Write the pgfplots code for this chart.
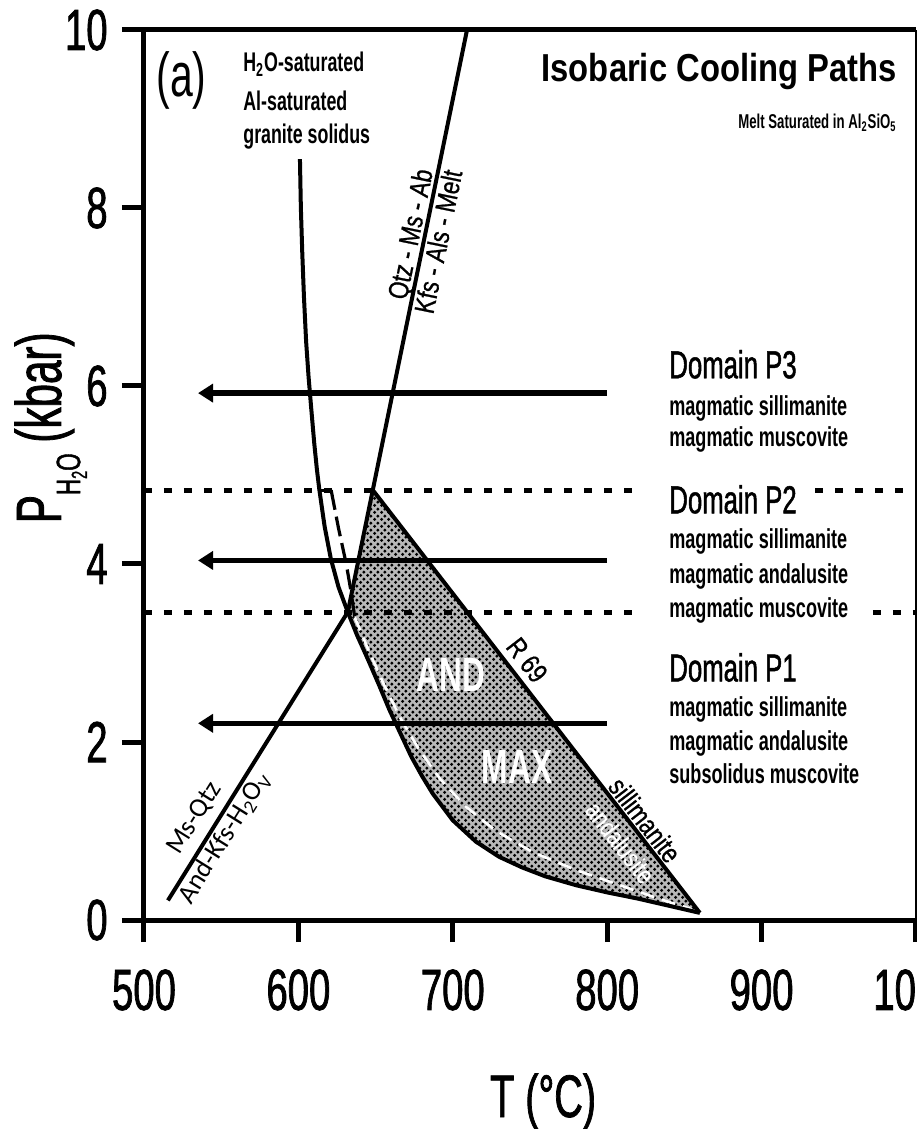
\documentclass[border=0pt]{standalone}
\usepackage{fontspec}
\setmainfont{Liberation Sans}[FakeStretch=0.66]
\newfontfamily\medfont{Liberation Sans}[FakeStretch=0.66, FakeBold=1.2]
\newfontfamily\titlefont{Liberation Sans}[FakeStretch=0.84]
\newfontfamily\midfont{Liberation Sans}[FakeStretch=0.8, FakeBold=0.8]
\newfontfamily\carl{Carlito}
\usepackage{pgfplots}
\pgfplotsset{compat=1.18}
\usetikzlibrary{arrows.meta,patterns.meta}

\tikzdeclarepattern{
  name=halftone,
  type=uncolored,
  bottom left={(0pt,0pt)},
  top right={(3.6pt,3.6pt)},
  tile size={(3.6pt,3.6pt)},
  code={
    \pgfpathcircle{\pgfqpoint{0.9pt}{0.9pt}}{0.95pt}
    \pgfpathcircle{\pgfqpoint{2.7pt}{2.7pt}}{0.95pt}
    \pgfusepath{fill}
  }
}

\begin{document}
\begin{tikzpicture}
\begin{axis}[
  width=386pt, height=445pt, scale only axis,
  xmin=500, xmax=1000, ymin=0, ymax=10,
  xtick={500,600,700,800,900,1000}, ytick={0,2,4,6,8,10},
  axis x line*=bottom, axis y line*=left,
  axis line style={line width=2.5pt},
  tick align=outside, major tick length=11pt,
  tick style={line width=2.5pt, black},
  /pgf/number format/1000 sep={},
  /pgf/number format/assume math mode=true,
  tick label style={font=\medfont\fontsize{29}{29}\selectfont},
  xticklabel style={anchor=north, inner sep=0pt, yshift=-13.5pt},
  yticklabel style={anchor=east, inner sep=0pt, xshift=-7pt},
  xlabel={T (°C)},
  every axis x label/.style={at={([yshift=-98.5pt]rel axis cs:0.517,0)}, anchor=base, font=\medfont\fontsize{30}{30}\selectfont},
  ylabel={P\raisebox{-0.3em}{\fontsize{17}{17}\selectfont H\raisebox{-0.2em}{\fontsize{11}{11}\selectfont 2}O}\,(kbar)},
  every axis y label/.style={at={([xshift=-41.5pt]rel axis cs:0,0.553)}, rotate=90, anchor=base, font=\medfont\fontsize{32}{32}\selectfont},
  clip=false,
]
\coordinate (SW) at (rel axis cs:0,0);
\coordinate (NE) at (rel axis cs:1,1);

% stippled field (AND + MAX)
\addplot[draw=none, fill=black!28, postaction={pattern=halftone, pattern color=black}] coordinates {
 (648.2,4.83) (860,0.08) (840,0.16) (820,0.24) (800,0.31) (780,0.39) (760,0.49)
 (745,0.59) (730,0.71) (715,0.88) (700,1.12) (687,1.42) (680,1.62) (673,1.84)
 (666,2.10) (659,2.36) (652,2.65) (645,2.93) (638,3.20) (632,3.46)
} -- cycle;

% white dashed continuation inside the field
\addplot[white, line width=1.3pt, dash pattern=on 7pt off 4pt] coordinates {
 (636.5,3.40) (645,3.05) (655,2.66) (666,2.27) (678,1.92) (692,1.58) (708,1.28)
 (728,1.0) (752,0.76) (780,0.56) (810,0.38) (835,0.23) (855,0.12)
};

% dotted domain boundaries
\addplot[black, line width=2.5pt, dash pattern=on 4pt off 6pt] coordinates {(500,4.83) (823,4.83)};
\addplot[black, line width=2.5pt, dash pattern=on 4pt off 6pt] coordinates {(934.6,4.83) (1000,4.83)};
\addplot[black, line width=2.5pt, dash pattern=on 4pt off 6pt] coordinates {(500,3.45) (823,3.45)};
\addplot[black, line width=2.5pt, dash pattern=on 4pt off 6pt] coordinates {(972,3.45) (1000,3.45)};

% H2O-saturated granite solidus
\addplot[black, line width=2pt] coordinates {
 (601,8.55) (601.6,8.0) (602.5,7.5) (603.6,7.0) (605,6.5) (606.6,6.1) (608.3,5.75)
 (610.3,5.35) (612,5.06) (613.6,4.83) (617,4.42) (621,4.06) (626,3.74) (632,3.46)
 (638,3.20) (645,2.93) (652,2.65) (659,2.36) (666,2.10) (673,1.84) (680,1.62)
 (687,1.42) (700,1.12) (715,0.88) (730,0.71) (745,0.59) (760,0.49) (780,0.39)
 (800,0.31) (820,0.24) (840,0.16) (860,0.08)
};

% black dashed curve between 4.8 kbar and the invariant point
\addplot[black, line width=1.6pt] coordinates {(613.6,4.83) (621.2,4.83)};
\addplot[black, line width=1.6pt, dash pattern=on 10pt off 3.5pt] coordinates {
 (621.2,4.83) (626,4.4) (631,4.0) (634,3.7) (636.5,3.4)
};

% Ms-Qtz = And-Kfs-H2Ov
\addplot[black, line width=2pt] coordinates {(515.5,0.22) (632,3.46)};
% Qtz-Ms-Ab = Kfs-Als-Melt
\addplot[black, line width=2pt] coordinates {(632,3.46) (709.2,10)};
% R69 andalusite/sillimanite
\addplot[black, line width=2pt] coordinates {(648.2,4.83) (860,0.08)};

% isobaric cooling paths
\addplot[black, line width=2.8pt, -{Triangle[length=7.5pt,width=9pt]}] coordinates {(800,5.92) (535,5.92)};
\addplot[black, line width=2.8pt, -{Triangle[length=7.5pt,width=9pt]}] coordinates {(800,4.04) (535,4.04)};
\addplot[black, line width=2.8pt, -{Triangle[length=7.5pt,width=9pt]}] coordinates {(800,2.21) (535,2.21)};

% axis top and right lines
\draw[line width=2.5pt] (rel axis cs:0,1) -- (rel axis cs:1,1);
\draw[line width=1pt] (rel axis cs:1,0) -- (rel axis cs:1,1);

% labels
\node[anchor=base west, font=\fontsize{31}{31}\selectfont, inner sep=0pt] at (axis cs:507.8,9.25) {(a)};
\node[anchor=base west, font=\bfseries\fontsize{13.5}{13.5}\selectfont, inner sep=0pt] at (axis cs:564.1,9.53) {H\textsubscript{2}O-saturated};
\node[anchor=base west, font=\bfseries\fontsize{13.5}{13.5}\selectfont, inner sep=0pt] at (axis cs:564.1,9.10) {Al-saturated};
\node[anchor=base west, font=\bfseries\fontsize{13.5}{13.5}\selectfont, inner sep=0pt] at (axis cs:564.1,8.73) {granite solidus};

\node[anchor=base east, font=\titlefont\bfseries\fontsize{19.5}{19.5}\selectfont, inner sep=0pt] at (axis cs:987.7,9.42) {Isobaric Cooling Paths};
\node[anchor=base east, font=\bfseries\fontsize{10}{10}\selectfont, inner sep=0pt] at (axis cs:987.7,8.89) {Melt Saturated in Al\textsubscript{2}SiO\textsubscript{5}};

\node[anchor=base, rotate=78.4, font=\midfont\fontsize{14}{14}\selectfont, inner sep=0pt] at (axis cs:678.6,7.685) {Qtz - Ms - Ab};
\node[anchor=base, rotate=78.4, font=\midfont\fontsize{14}{14}\selectfont, inner sep=0pt] at (axis cs:696.8,7.60) {Kfs - Als - Melt};

\node[anchor=base, rotate=58, font=\carl\fontsize{13.5}{13.5}\selectfont, inner sep=0pt] at (axis cs:536.8,1.10) {Ms-Qtz};
\node[anchor=base, rotate=58, font=\carl\fontsize{13.5}{13.5}\selectfont, inner sep=0pt] at (axis cs:556.2,0.88) {And-Kfs-H\textsubscript{2}O\textsubscript{V}};

\node[rotate=-52.3, font=\midfont\fontsize{14}{14}\selectfont, inner sep=0pt] at (axis cs:748.1,2.92) {R 69};
\node[rotate=-52.3, font=\midfont\fontsize{14}{14}\selectfont, inner sep=0pt] at (axis cs:824.5,1.124) {sillimanite};
\node[rotate=-52.3, font=\midfont\fontsize{13}{13}\selectfont, inner sep=0pt, text=white] at (axis cs:808.5,0.87) {andalusite};

\node[font=\bfseries\fontsize{24}{24}\selectfont, text=white, inner sep=0pt] at (axis cs:698.8,2.75) {AND};
\node[font=\bfseries\fontsize{24}{24}\selectfont, text=white, inner sep=0pt] at (axis cs:741.6,1.72) {MAX};

% domain texts
\node[anchor=base west, font=\medfont\fontsize{19.5}{19.5}\selectfont, inner sep=0pt] at (axis cs:840,6.087) {Domain P3};
\node[anchor=base west, font=\bfseries\fontsize{13.7}{13.7}\selectfont, inner sep=0pt] at (axis cs:840,5.674) {magmatic sillimanite};
\node[anchor=base west, font=\bfseries\fontsize{13.7}{13.7}\selectfont, inner sep=0pt] at (axis cs:840,5.318) {magmatic muscovite};

\node[anchor=base west, font=\medfont\fontsize{19.5}{19.5}\selectfont, inner sep=0pt] at (axis cs:840,4.57) {Domain P2};
\node[anchor=base west, font=\bfseries\fontsize{13.7}{13.7}\selectfont, inner sep=0pt] at (axis cs:840,4.176) {magmatic sillimanite};
\node[anchor=base west, font=\bfseries\fontsize{13.7}{13.7}\selectfont, inner sep=0pt] at (axis cs:840,3.783) {magmatic andalusite};
\node[anchor=base west, font=\bfseries\fontsize{13.7}{13.7}\selectfont, inner sep=0pt] at (axis cs:840,3.40) {magmatic muscovite};

\node[anchor=base west, font=\medfont\fontsize{19.5}{19.5}\selectfont, inner sep=0pt] at (axis cs:840,2.68) {Domain P1};
\node[anchor=base west, font=\bfseries\fontsize{13.7}{13.7}\selectfont, inner sep=0pt] at (axis cs:840,2.284) {magmatic sillimanite};
\node[anchor=base west, font=\bfseries\fontsize{13.7}{13.7}\selectfont, inner sep=0pt] at (axis cs:840,1.91) {magmatic andalusite};
\node[anchor=base west, font=\bfseries\fontsize{13.7}{13.7}\selectfont, inner sep=0pt] at (axis cs:840,1.536) {subsolidus muscovite};
\end{axis}
\pgfresetboundingbox
\path[use as bounding box] ([xshift=-72pt,yshift=-104.5pt]SW) rectangle ([xshift=0.5pt,yshift=15pt]NE);
\end{tikzpicture}
\end{document}
